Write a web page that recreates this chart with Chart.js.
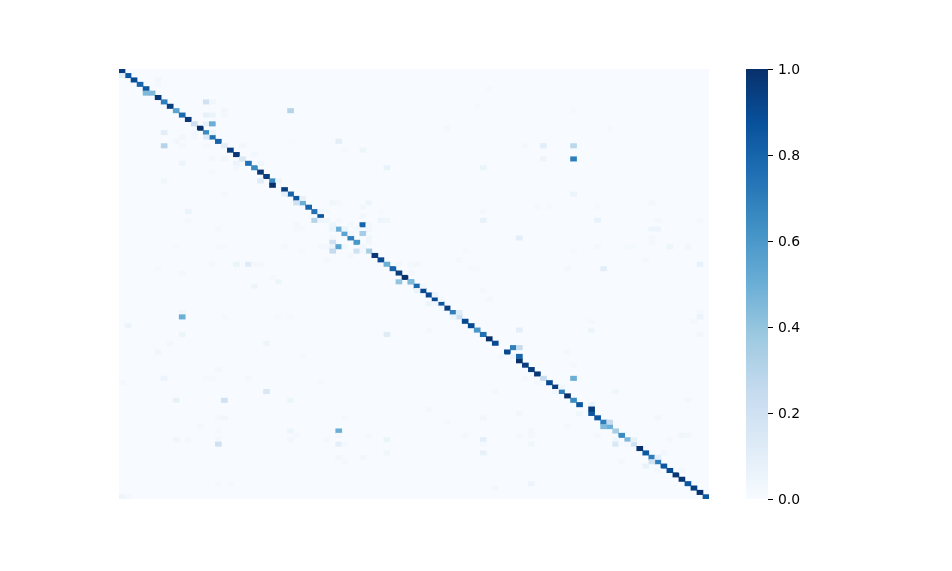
<!DOCTYPE html>
<html>
<head>
<meta charset="utf-8">
<title>Confusion matrix</title>
<script src="https://cdn.jsdelivr.net/npm/chart.js@4"></script>
<style>
  html, body { margin: 0; padding: 0; background: #fff; overflow: hidden; }
  canvas { position: absolute; top: 0; }
  #matrix { left: 0; }
  #colorbar { left: 746px; }
</style>
</head>
<body>
<canvas id="matrix" width="952" height="571"></canvas>
<canvas id="colorbar" width="206" height="571"></canvas>
<script>
// value on the diagonal, one per class
const diagonal = [
  .95, .85, .9, .8, .85, .45, .97, .7, .95, .55, .78, .97, .2, 1, .65, .75, .8, .1, .95, .97,
  .15, .75, .65, .97, .95, .65, 0, .95, .8, .85, .5, .8, .75, .85, .04, .05, .5, .55, .7, .6,
  .03, .35, .97, .9, .5, .8, .95, 1, .45, .78, .9, .9, .9, .85, .95, .7, .22, .9, .9, .6,
  .75, 1, .9, 0, .9, .06, 1, .95, .95, .97, .25, .9, .95, .7, 1, .65, .85, 0, .85, .85,
  .7, .5, .35, .65, .45, .2, 1, .85, .7, .7, .85, .9, .98, .98, .85, .95, 1, .85
];

// everything off the diagonal: [column, row, value]
const offDiagonal = [
  [0,1,.1],[6,2,.03],[6,3,.02],[4,5,.45],[14,7,.2],[15,7,.04],[28,9,.3],[17,9,.03],[17,10,.02],
  [14,10,.08],[15,10,.06],[14,12,.08],[15,12,.5],[7,14,.1],[12,14,.02],[15,14,.06],[10,15,.03],
  [12,15,.02],[14,15,.12],[9,16,.03],[28,16,.01],[7,17,.3],[10,17,.02],[14,17,.02],[20,17,.03],
  [22,19,.02],[15,20,.02],[17,20,.04],[10,21,.05],[19,21,.06],[23,21,.04],[19,22,.03],[15,23,.02],
  [61,4,.012],[59,8,.015],[54,13,.02],[36,16,.1],[37,18,.015],[40,18,.05],[44,22,.07],[60,22,.06],
  [75,9,.015],[81,13,.015],[67,17,.02],[70,17,.1],[75,17,.28],[70,20,.05],[75,20,.7],
  [7,25,.04],[23,25,.12],[26,25,.05],[25,26,1],[27,28,.08],[30,29,.08],[29,30,.2],[32,34,.3],
  [17,28,.02],[11,32,.06],[11,34,.02],[16,36,.02],[29,35,.02],[29,36,.015],[30,36,.015],
  [9,40,.015],[16,40,.015],[17,40,.015],[27,40,.02],[30,41,.015],[15,44,.02],[19,44,.06],
  [21,44,.12],[22,44,.03],[23,44,.02],[6,45,.015],[10,46,.02],[25,47,.015],[26,48,.05],[22,49,.05],
  [35,30,.04],[36,30,.02],[41,30,.05],[40,31,.03],[33,32,.04],[34,32,.015],[40,33,.03],[43,32,.015],
  [33,34,.05],[36,34,.02],[43,34,.05],[44,34,.04],[60,32,.02],[60,34,.08],[38,35,.02],[40,35,.8],
  [41,35,.02],[35,36,.06],[37,36,.06],[39,36,.02],[41,36,.03],[38,37,.03],[40,37,.35],[41,38,.04],
  [35,38,.02],[65,38,.01],[35,39,.2],[41,39,.03],[33,40,.02],[34,40,.03],[35,40,.06],[36,40,.55],
  [37,40,.03],[35,41,.25],[39,41,.2],[40,41,.02],[57,41,.015],[38,42,.02],[34,43,.02],[56,43,.02],
  [46,44,.02],[48,44,.02],[49,44,.03],[58,45,.015],[59,45,.015],[48,46,.03],[46,48,.4],[48,48,.45],
  [50,49,.03],[49,50,.06],[75,28,.06],[88,30,.03],[69,31,.015],[71,31,.015],[79,31,.015],[79,34,.07],
  [89,34,.02],[96,34,.02],[88,36,.05],[89,36,.05],[66,38,.1],[88,38,.025],[88,39,.02],[79,40,.02],
  [84,40,.015],[85,40,.015],[91,40,.05],[94,40,.03],[75,41,.015],[87,43,.02],[96,44,.08],[74,45,.02],
  [80,45,.1],[10,55,.04],[10,56,.5],[17,56,.015],[26,56,.015],[28,56,.015],[1,58,.05],[10,60,.05],
  [8,62,.02],[24,62,.05],[6,64,.04],[30,65,.015],[16,68,.02],[7,70,.05],[14,70,.015],[15,70,.015],
  [21,70,.02],[0,71,.02],[24,73,.15],[56,55,.12],[55,56,.06],[44,60,.12],[51,59,.02],[60,50,.02],
  [61,52,.02],[63,65,.02],[33,71,.015],[62,73,.02],[52,51,.05],[53,52,.03],[51,53,.06],[52,53,.03],
  [53,54,.02],[65,63,.7],[66,63,.25],[66,65,.8],[66,59,.1],[78,59,.05],[78,57,.02],[96,55,.02],
  [96,56,.06],[95,57,.025],[96,60,.03],[74,64,.02],[75,67,.02],[67,70,.02],[75,70,.5],[69,71,.02],
  [73,72,.04],[72,73,.03],[82,73,.04],[9,75,.08],[17,75,.2],[28,75,.05],[16,79,.02],[17,79,.04],
  [13,81,.02],[16,82,.015],[28,82,.05],[29,83,.025],[9,84,.04],[11,84,.02],[16,84,.02],[28,84,.03],
  [16,85,.2],[16,94,.015],[18,94,.015],[0,97,.05],[1,97,.02],[51,77,.02],[37,79,.02],[60,79,.03],
  [54,80,.02],[36,82,.5],[36,83,.02],[41,83,.02],[57,83,.02],[34,84,.02],[44,84,.06],[60,84,.1],
  [36,85,.1],[37,85,.02],[60,85,.02],[44,87,.04],[60,87,.08],[36,88,.03],[40,88,.03],[37,89,.02],
  [62,95,.03],[78,76,.06],[78,77,.95],[76,78,.04],[81,80,.25],[80,81,.45],[85,84,.08],[82,84,.04],
  [82,85,.15],[83,85,.015],[84,85,.02],[89,88,.1],[88,89,.2],[90,87,.03],[87,90,.07],[89,91,.02],
  [93,91,.03],[94,75,.03],[66,78,.03],[89,79,.03],[74,81,.02],[68,82,.02],[68,83,.02],[66,83,.02],
  [79,83,.02],[93,83,.04],[94,83,.03],[91,84,.02],[68,85,.04],[83,89,.02],[68,94,.05]
];

const categories = diagonal.map((_, i) => i);

// Blues colormap
const blues = ['#f7fbff', '#deebf7', '#c6dbef', '#9ecae1', '#6baed6', '#4292c6', '#2171b5', '#08519c', '#08306b'];

function hexToRgb(hex) {
  return [1, 3, 5].map(i => parseInt(hex.slice(i, i + 2), 16));
}

function blueFor(v) {
  const pos = Math.min(v, 1) * (blues.length - 1);
  const i = Math.min(Math.floor(pos), blues.length - 2);
  const a = hexToRgb(blues[i]), b = hexToRgb(blues[i + 1]);
  const t = pos - i;
  const rgb = a.map((c, k) => Math.round(c + (b[k] - c) * t));
  return `rgb(${rgb.join(',')})`;
}

const cells = diagonal
  .map((v, i) => [i, i, v])
  .concat(offDiagonal)
  .filter(c => c[2] > 0);

const backdrop = {
  id: 'backdrop',
  beforeDatasetsDraw(chart) {
    const { ctx, chartArea: a } = chart;
    ctx.save();
    ctx.fillStyle = blues[0];
    ctx.fillRect(a.left, a.top, a.width, a.height);
    ctx.restore();
  }
};

new Chart(document.getElementById('matrix'), {
  type: 'bar',
  data: {
    labels: categories,
    datasets: [{
      data: cells.map(c => ({ x: c[0], y: [c[1], c[1] + 1] })),
      backgroundColor: cells.map(c => blueFor(c[2])),
      borderWidth: 0,
      barPercentage: 1,
      categoryPercentage: 1,
      grouped: false
    }]
  },
  options: {
    responsive: false,
    animation: false,
    layout: { padding: { left: 119, right: 243, top: 69, bottom: 72 } },
    plugins: { legend: { display: false }, tooltip: { enabled: false } },
    scales: {
      x: { display: false },
      y: { display: false, reverse: true, min: 0, max: categories.length }
    }
  },
  plugins: [backdrop]
});

// colorbar: one floating bar from 0 to 1 filled with the colormap
new Chart(document.getElementById('colorbar'), {
  type: 'bar',
  data: {
    labels: ['scale'],
    datasets: [{
      data: [[0, 1]],
      borderWidth: 0,
      barPercentage: 1,
      categoryPercentage: 1,
      backgroundColor(ctx) {
        const { chart } = ctx;
        if (!chart.chartArea) return blues[0];
        const yScale = chart.scales.y;
        const grad = chart.ctx.createLinearGradient(0, yScale.getPixelForValue(0), 0, yScale.getPixelForValue(1));
        blues.forEach((c, i) => grad.addColorStop(i / (blues.length - 1), c));
        return grad;
      }
    }]
  },
  options: {
    responsive: false,
    animation: false,
    layout: { padding: { left: 0, right: 0, top: 69, bottom: 72 } },
    plugins: { legend: { display: false }, tooltip: { enabled: false } },
    scales: {
      x: { display: false },
      y: {
        position: 'right',
        min: 0,
        max: 1,
        afterFit(scale) { scale.width = 184; },
        border: { display: false },
        grid: { drawOnChartArea: false, drawTicks: true, tickLength: 5, tickWidth: 1, tickColor: '#000' },
        ticks: {
          stepSize: 0.2,
          padding: 5,
          labelOffset: 1,
          color: '#000',
          font: { family: 'DejaVu Sans', size: 13.9 },
          callback: v => v.toFixed(1)
        }
      }
    }
  }
});
</script>
</body>
</html>
